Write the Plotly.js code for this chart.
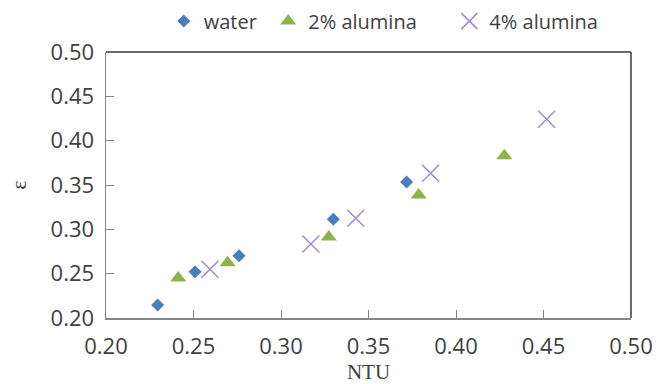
<!DOCTYPE html>
<html>
<head>
<meta charset="utf-8">
<script src="https://cdn.plot.ly/plotly-3.0.1.min.js"></script>
<style>html,body{margin:0;padding:0;background:#fff;}#chart{width:664px;height:384px;}</style>
</head>
<body>
<div id="chart"></div>
<script>
// Data
var waterNTU = [0.2295, 0.2509, 0.2760, 0.3299, 0.3718];
var waterEff = [0.2147, 0.2522, 0.2703, 0.3113, 0.3534];

var al2NTU = [0.2413, 0.2695, 0.3273, 0.3787, 0.4276];
var al2Eff = [0.2450, 0.2624, 0.2914, 0.3387, 0.3830];

var al4NTU = [0.2594, 0.3171, 0.3427, 0.3855, 0.4518];
var al4Eff = [0.2549, 0.2835, 0.3124, 0.3632, 0.4241];

var seriesNames = ['water', '2% alumina', '4% alumina'];
var tickVals = [0.20, 0.25, 0.30, 0.35, 0.40, 0.45, 0.50];
var tickText = ['0.20', '0.25', '0.30', '0.35', '0.40', '0.45', '0.50'];

var traces = [
  {x: waterNTU, y: waterEff, name: seriesNames[0], type: 'scatter', mode: 'markers',
   marker: {symbol: 'diamond', size: 10, color: '#4a7ebb'}, legend: 'legend'},
  {x: al2NTU, y: al2Eff, name: seriesNames[1], type: 'scatter', mode: 'markers',
   marker: {symbol: 'triangle-up', size: 14, color: '#8db44a'}, legend: 'legend2'},
  {x: al4NTU, y: al4Eff, name: seriesNames[2], type: 'scatter', mode: 'markers',
   marker: {symbol: 'x-thin-open', size: 17, color: '#a08cc8', line: {color: '#a08cc8', width: 1.5}}, legend: 'legend3'}
];

var legendFont = {family: 'Open Sans, sans-serif', size: 20, color: '#404040'};
function leg(x) {
  return {x: x, xref: 'paper', y: 0.945, yref: 'container', xanchor: 'left', yanchor: 'middle',
          orientation: 'h', font: legendFont, bgcolor: 'rgba(0,0,0,0)', borderwidth: 0};
}

var tickFont = {family: 'Open Sans, sans-serif', size: 22, color: '#404040'};

var layout = {
  width: 664, height: 384,
  margin: {l: 106, r: 33, t: 52, b: 66, autoexpand: false},
  paper_bgcolor: '#ffffff', plot_bgcolor: '#ffffff',
  showlegend: true,
  legend: leg(0.11),
  legend2: leg(0.309),
  legend3: leg(0.654),
  xaxis: {
    range: [0.2, 0.5], tickvals: tickVals, ticktext: tickText,
    ticks: 'inside', ticklen: 8, tickcolor: '#868686', tickwidth: 1,
    showline: true, linecolor: '#868686', linewidth: 1.5,
    showgrid: false, zeroline: false, tickfont: tickFont, ticklabelstandoff: 8,
    title: {text: 'NTU', font: {family: 'Liberation Serif, serif', size: 21, color: '#404040'}, standoff: 6}
  },
  yaxis: {
    range: [0.2, 0.5], tickvals: tickVals, ticktext: tickText,
    ticks: 'inside', ticklen: 8, tickcolor: '#868686', tickwidth: 1,
    showline: true, linecolor: '#868686', linewidth: 1.5,
    showgrid: false, zeroline: false, tickfont: tickFont, ticklabelstandoff: 6,
    title: {text: 'ε', font: {family: 'Liberation Serif, serif', size: 22, color: '#404040'}, standoff: 18}
  },
  shapes: [
    {type: 'line', xref: 'paper', yref: 'paper', x0: 0, x1: 1, y0: 1, y1: 1, line: {color: '#3a3a3a', width: 1.5}},
    {type: 'line', xref: 'paper', yref: 'paper', x0: 1, x1: 1, y0: 0, y1: 1, line: {color: '#3a3a3a', width: 1.5}}
  ]
};

Plotly.newPlot('chart', traces, layout, {displayModeBar: false, staticPlot: true});
</script>
</body>
</html>
